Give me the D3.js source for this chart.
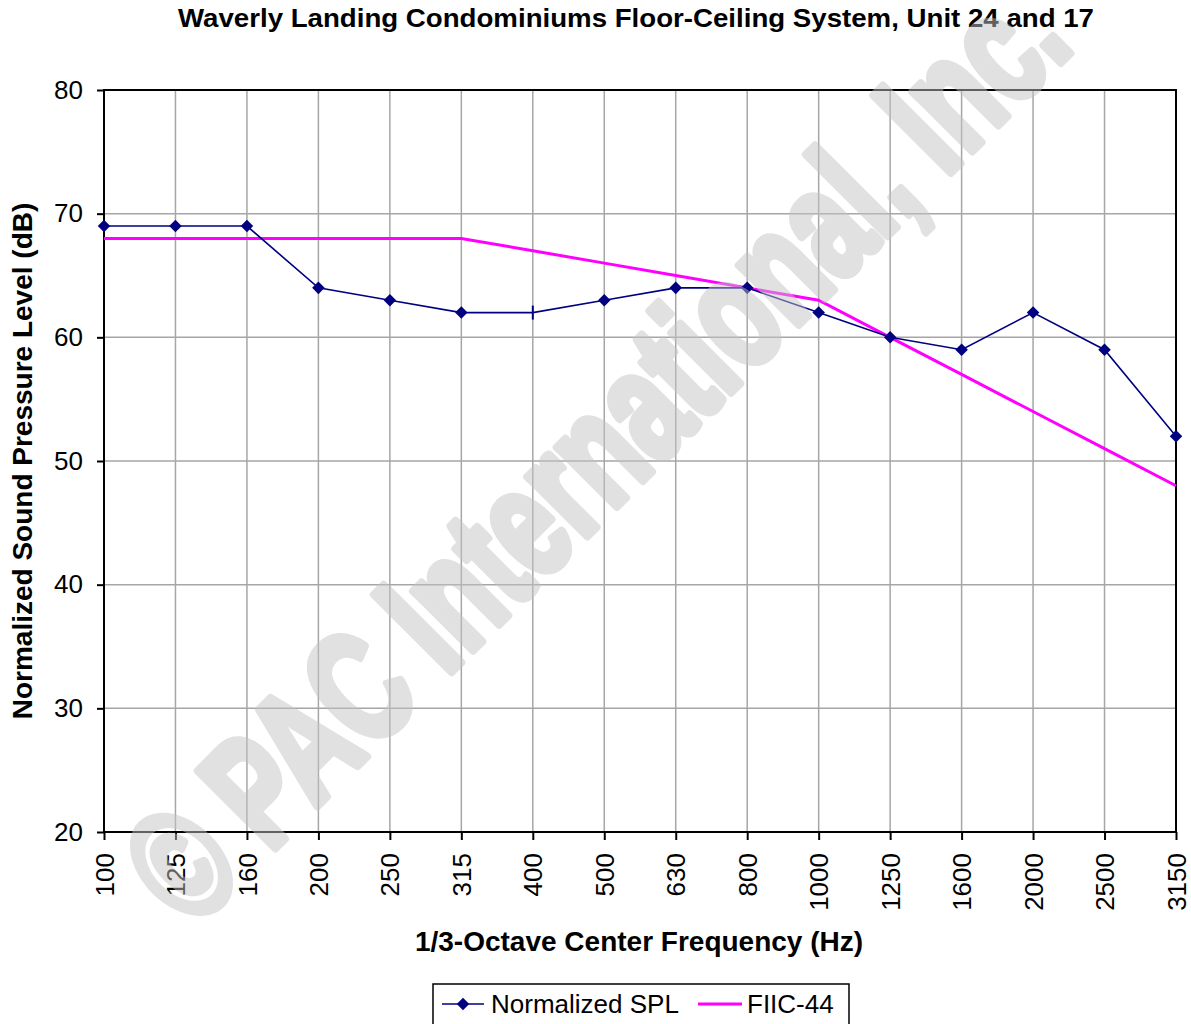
<!DOCTYPE html>
<html>
<head>
<meta charset="utf-8">
<script src="https://cdn.jsdelivr.net/npm/d3@7"></script>
<style>
  html, body { margin: 0; padding: 0; background: #fff; }
  svg { display: block; font-family: "Liberation Sans", Arial, sans-serif; }
</style>
</head>
<body>
<div id="viz"></div>
<script>
const W = 1191;
const H = 1024;
const M = { top: 90, right: 15, bottom: 192, left: 104 };

const FREQS = ['100', '125', '160', '200', '250', '315', '400', '500', '630', '800',
  '1000', '1250', '1600', '2000', '2500', '3150'];
const SPL = [69, 69, 69, 64, 63, 62, 62, 63, 64, 64, 62, 60, 59, 62, 59, 52];
const FIIC = [68, 68, 68, 68, 68, 68, 67, 66, 65, 64, 63, 60, 57, 54, 51, 48];
const Y_TICKS = [20, 30, 40, 50, 60, 70, 80];

const TITLE = 'Waverly Landing Condominiums Floor-Ceiling System, Unit 24 and 17';
const X_TITLE = '1/3-Octave Center Frequency (Hz)';
const Y_TITLE = 'Normalized Sound Pressure Level (dB)';
const SERIES_NAMES = ['Normalized SPL', 'FIIC-44'];
const WATERMARK = '\u00A9 PAC International, Inc.';

// the 400 Hz point has no diamond in the original, only a small tick
const NO_MARKER = '400';

const NAVY = '#000080';
const MAGENTA = '#ff00ff';
const GRID = '#a6a6a6';
const FONT = '"Liberation Sans", Arial, sans-serif';

const svg = d3.select('#viz').append('svg')
  .attr('width', W)
  .attr('height', H)
  .attr('viewBox', `0 0 ${W} ${H}`);

const x = d3.scalePoint()
  .domain(FREQS)
  .range([M.left, W - M.right]);

const y = d3.scaleLinear()
  .domain([20, 80])
  .range([H - M.bottom, M.top]);

// grid
svg.append('g')
  .selectAll('line')
  .data(FREQS.slice(1, -1))
  .join('line')
  .attr('x1', (d) => x(d)).attr('x2', (d) => x(d))
  .attr('y1', y(80)).attr('y2', y(20))
  .attr('stroke', GRID).attr('stroke-width', 1.5);

svg.append('g')
  .selectAll('line')
  .data(Y_TICKS.slice(1, -1))
  .join('line')
  .attr('x1', x(FREQS[0])).attr('x2', x(FREQS[FREQS.length - 1]))
  .attr('y1', (d) => y(d)).attr('y2', (d) => y(d))
  .attr('stroke', GRID).attr('stroke-width', 1.5);

// axes
const yAxis = svg.append('g')
  .attr('transform', `translate(${M.left},0)`)
  .call(d3.axisLeft(y).tickValues(Y_TICKS).tickSize(7).tickPadding(14));
yAxis.select('.domain').remove();
yAxis.selectAll('.tick line').attr('stroke', '#000').attr('stroke-width', 2);
yAxis.selectAll('.tick text')
  .attr('font-size', 26)
  .attr('font-family', FONT)
  .attr('fill', '#000');

const xAxis = svg.append('g')
  .attr('transform', `translate(0,${y(20)})`)
  .call(d3.axisBottom(x).tickSize(8).tickPadding(0));
xAxis.select('.domain').remove();
xAxis.selectAll('.tick line').attr('stroke', '#000').attr('stroke-width', 2);
xAxis.selectAll('.tick text')
  .attr('font-size', 26)
  .attr('font-family', FONT)
  .attr('fill', '#000')
  .attr('text-anchor', 'end')
  .attr('transform', 'translate(0,21) rotate(-90)')
  .attr('x', 0)
  .attr('y', 0)
  .attr('dy', '0.35em');

// plot frame
svg.append('rect')
  .attr('x', x(FREQS[0]))
  .attr('y', y(80))
  .attr('width', x(FREQS[FREQS.length - 1]) - x(FREQS[0]))
  .attr('height', y(20) - y(80))
  .attr('fill', 'none')
  .attr('stroke', '#000')
  .attr('stroke-width', 2);

// series
const line = d3.line()
  .x((d, i) => x(FREQS[i]))
  .y((d) => y(d));

svg.append('path')
  .datum(FIIC)
  .attr('d', line)
  .attr('fill', 'none')
  .attr('stroke', MAGENTA)
  .attr('stroke-width', 3);

svg.append('path')
  .datum(SPL)
  .attr('d', line)
  .attr('fill', 'none')
  .attr('stroke', NAVY)
  .attr('stroke-width', 1.6);

const diamond = d3.symbol().type(d3.symbolDiamond2).size(100);
const pts = SPL.map((v, i) => ({ f: FREQS[i], v }));

svg.append('g')
  .selectAll('path')
  .data(pts.filter((d) => d.f !== NO_MARKER))
  .join('path')
  .attr('d', diamond)
  .attr('transform', (d) => `translate(${x(d.f)},${y(d.v)})`)
  .attr('fill', NAVY);

svg.append('g')
  .selectAll('line')
  .data(pts.filter((d) => d.f === NO_MARKER))
  .join('line')
  .attr('x1', (d) => x(d.f)).attr('x2', (d) => x(d.f))
  .attr('y1', (d) => y(d.v) - 7).attr('y2', (d) => y(d.v) + 7)
  .attr('stroke', NAVY).attr('stroke-width', 2);

// titles
svg.append('text')
  .attr('x', 636).attr('y', 27)
  .attr('text-anchor', 'middle')
  .attr('font-size', 26)
  .attr('font-weight', 'bold')
  .attr('textLength', 916)
  .attr('lengthAdjust', 'spacingAndGlyphs')
  .text(TITLE);

svg.append('text')
  .attr('x', 639).attr('y', 951)
  .attr('text-anchor', 'middle')
  .attr('font-size', 28)
  .attr('font-weight', 'bold')
  .text(X_TITLE);

svg.append('text')
  .attr('transform', `translate(32,${(y(20) + y(80)) / 2}) rotate(-90)`)
  .attr('text-anchor', 'middle')
  .attr('font-size', 28)
  .attr('font-weight', 'bold')
  .text(Y_TITLE);

// legend
const lg = svg.append('g');
lg.append('rect')
  .attr('x', 433).attr('y', 984)
  .attr('width', 416).attr('height', 60)
  .attr('fill', '#fff')
  .attr('stroke', '#000')
  .attr('stroke-width', 1.5);

lg.append('line')
  .attr('x1', 442).attr('x2', 484).attr('y1', 1004).attr('y2', 1004)
  .attr('stroke', NAVY).attr('stroke-width', 1.6);
lg.append('path')
  .attr('d', diamond)
  .attr('transform', 'translate(463,1004)')
  .attr('fill', NAVY);
lg.append('text')
  .attr('x', 491).attr('y', 1013)
  .attr('font-size', 26)
  .text(SERIES_NAMES[0]);

lg.append('line')
  .attr('x1', 698).attr('x2', 742).attr('y1', 1004).attr('y2', 1004)
  .attr('stroke', MAGENTA).attr('stroke-width', 3);
lg.append('text')
  .attr('x', 747).attr('y', 1013)
  .attr('font-size', 26)
  .text(SERIES_NAMES[1]);

// watermark on top, translucent as a whole
svg.append('g')
  .attr('opacity', 0.49)
  .append('text')
  .attr('transform', 'translate(634,489) rotate(-45)')
  .attr('text-anchor', 'middle')
  .attr('font-family', FONT)
  .attr('font-weight', 'bold')
  .attr('font-size', 158)
  .attr('textLength', 1250)
  .attr('lengthAdjust', 'spacingAndGlyphs')
  .attr('fill', '#c4c4c4')
  .attr('stroke', '#c4c4c4')
  .attr('stroke-width', 9)
  .attr('stroke-linejoin', 'round')
  .text(WATERMARK);
</script>
</body>
</html>
